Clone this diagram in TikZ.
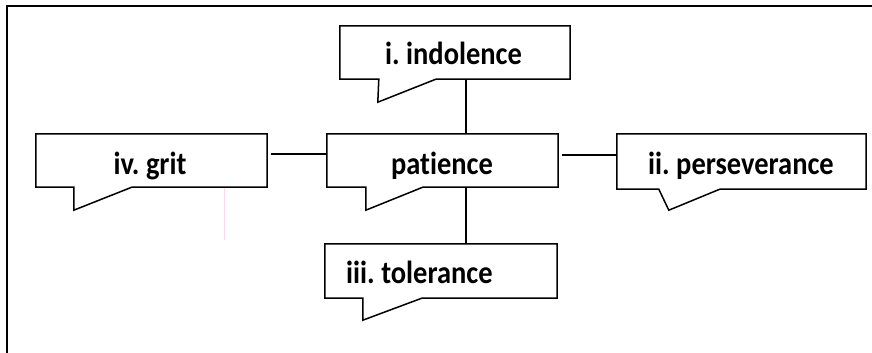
\documentclass[tikz,border=0pt]{standalone}
\usepackage{fontspec}
\setmainfont{Carlito}[Ligatures=NoCommon]
\frenchspacing
\usetikzlibrary{calc}
\tikzset{
  box/.style={inner sep=0pt, draw=none},
  bubline/.style={draw=black, line width=1.5pt, line join=miter, fill=white},
  lbl/.style={font=\fontsize{32}{36}\selectfont\bfseries, inner sep=0pt, anchor=base},
  link/.style={draw=black, line width=1.3pt},
  frame/.style={draw=black, line width=2pt}
}
\newcommand\sq[1]{\scalebox{0.89}[1]{#1}}
\newcommand\bubbleoutline[5]{%
  \draw[bubline] (#1.north west) -- (#1.north east) -- (#1.south east)
    -- ($(#1.south west)+(#3,0)$) -- ($(#1.south west)+(#4,#5)$)
    -- ($(#1.south west)+(#2,0)$) -- (#1.south west) -- cycle;}
\begin{document}
\begin{tikzpicture}[x=1pt,y=-1pt]
\useasboundingbox (0,0) rectangle (872,353);
% outer frame
\coordinate (fbl) at (7.3,360);
\coordinate (ftl) at (7.3,5.7);
\coordinate (ftr) at (880,5.7);
\draw[frame] (fbl) -- (ftl) -- (ftr);
% boxes
\node[box, minimum width=230pt, minimum height=53pt] (ind) at (455,52.5) {};
\node[box, minimum width=231pt, minimum height=53pt] (pat) at (442.5,160.5) {};
\node[box, minimum width=231pt, minimum height=53pt] (grit) at (151.5,160.5) {};
\node[box, minimum width=249pt, minimum height=55pt] (per) at (741.5,161.5) {};
\node[box, minimum width=232pt, minimum height=54pt] (tol) at (441,271) {};
\bubbleoutline{ind}{39}{96}{38}{23}
\bubbleoutline{pat}{39}{96}{39}{23}
\bubbleoutline{grit}{38}{96}{38}{23}
\bubbleoutline{per}{42}{103}{52}{21}
\bubbleoutline{tol}{38}{97}{38}{22}
% labels
\node[lbl] (tind) at (453.5,64) {\sq{i. indolence}};
\node[lbl] (tpat) at (442,174) {\sq{patience}};
\node[lbl] (tgrit) at (150,174) {\sq{iv. grit}};
\node[lbl] (tper) at (741,174) {\sq{ii. perseverance}};
\node[lbl, anchor=base west] (ttol) at (346,283) {\sq{iii. tolerance}};
% connectors
\coordinate (vx) at (466,0);
\coordinate (hl) at (0,154);
\coordinate (hr) at (0,155);
\draw[link] (ind.south -| vx) -- (pat.north -| vx);
\draw[link] (pat.south -| vx) -- (tol.north -| vx);
\draw[link, shorten <=4pt] (grit.east |- hl) -- (pat.west |- hl);
\draw[link, shorten <=4pt] (pat.east |- hr) -- (per.west |- hr);
% stray faint line
\coordinate (p1) at (224,188);
\coordinate (p2) at (224,240);
\draw[pink!70!magenta!35, line width=0.8pt] (p1) -- (p2);
\end{tikzpicture}
\end{document}
